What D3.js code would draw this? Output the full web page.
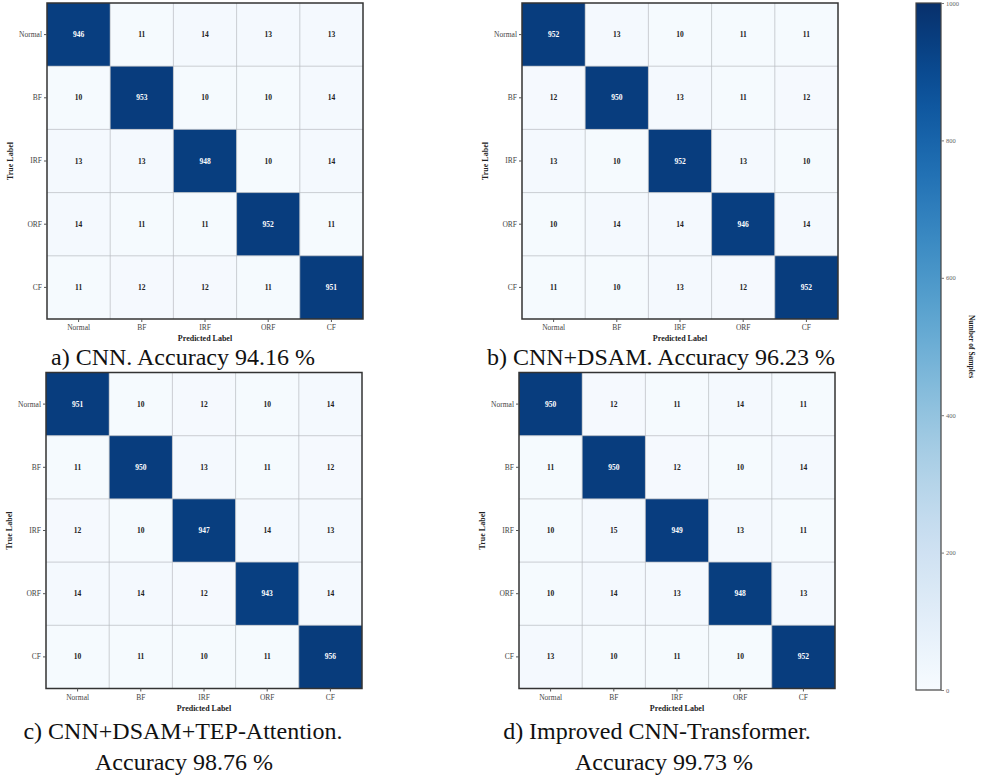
<!DOCTYPE html>
<html>
<head>
<meta charset="utf-8">
<script src="https://cdn.jsdelivr.net/npm/d3@7"></script>
<style>
  body { margin: 0; background: #fff; }
  svg { display: block; }
</style>
</head>
<body>
<svg id="chart" width="985" height="777"></svg>
<script>
// Fault classes (rows = true, columns = predicted)
const classes = ["Normal", "BF", "IRF", "ORF", "CF"];

// Confusion matrices for each model
const cnnMatrix = [
  [946, 11, 14, 13, 13],
  [10, 953, 10, 10, 14],
  [13, 13, 948, 10, 14],
  [14, 11, 11, 952, 11],
  [11, 12, 12, 11, 951]
];
const dsamMatrix = [
  [952, 13, 10, 11, 11],
  [12, 950, 13, 11, 12],
  [13, 10, 952, 13, 10],
  [10, 14, 14, 946, 14],
  [11, 10, 13, 12, 952]
];
const tepMatrix = [
  [951, 10, 12, 10, 14],
  [11, 950, 13, 11, 12],
  [12, 10, 947, 14, 13],
  [14, 14, 12, 943, 14],
  [10, 11, 10, 11, 956]
];
const transformerMatrix = [
  [950, 12, 11, 14, 11],
  [11, 950, 12, 10, 14],
  [10, 15, 949, 13, 11],
  [10, 14, 13, 948, 13],
  [13, 10, 11, 10, 952]
];

// Panel captions
const captions = [
  ["a) CNN. Accuracy 94.16 %"],
  ["b) CNN+DSAM. Accuracy 96.23 %"],
  ["c) CNN+DSAM+TEP-Attention.", "Accuracy 98.76 %"],
  ["d) Improved CNN-Transformer.", "Accuracy 99.73 %"]
];

// Colour bar ticks
const colorTicks = [0, 200, 400, 600, 800, 1000];
const colorDomain = [0, 1000];

const SERIF = "'Liberation Serif', 'Times New Roman', serif";

const svg = d3.select("#chart").attr("font-family", SERIF);
const color = d3.scaleSequential(d3.interpolateBlues).domain(colorDomain);

const size = 316;
const panels = [
  { m: cnnMatrix, x: 47, y: 3, cap: captions[0], capX: [183], capY: 365 },
  { m: dsamMatrix, x: 522, y: 3, cap: captions[1], capX: [661], capY: 365 },
  { m: tepMatrix, x: 46, y: 372.5, cap: captions[2], capX: [183, 184], capY: 739 },
  { m: transformerMatrix, x: 519, y: 372.5, cap: captions[3], capX: [657, 664], capY: 739 }
];

panels.forEach(p => {
  const g = svg.append("g").attr("transform", `translate(${p.x},${p.y})`);
  const xs = d3.scaleBand().domain(classes).range([0, size]);
  const ys = d3.scaleBand().domain(classes).range([0, size]);

  const cells = [];
  p.m.forEach((row, i) => row.forEach((v, j) => cells.push({ t: classes[i], p: classes[j], v })));

  g.selectAll("rect.cell").data(cells).join("rect")
    .attr("class", "cell")
    .attr("x", d => xs(d.p))
    .attr("y", d => ys(d.t))
    .attr("width", xs.bandwidth())
    .attr("height", ys.bandwidth())
    .attr("fill", d => color(d.v));

  // cell boundary grid
  const bounds = d3.range(1, classes.length).map(k => k * xs.step());
  g.selectAll("line.gv").data(bounds).join("line")
    .attr("x1", d => d).attr("x2", d => d).attr("y1", 0).attr("y2", size)
    .attr("stroke", "#b8bcc2").attr("stroke-width", 0.9).attr("stroke-opacity", 0.8);
  g.selectAll("line.gh").data(bounds).join("line")
    .attr("y1", d => d).attr("y2", d => d).attr("x1", 0).attr("x2", size)
    .attr("stroke", "#b8bcc2").attr("stroke-width", 0.9).attr("stroke-opacity", 0.8);

  g.selectAll("text.val").data(cells).join("text")
    .attr("class", "val")
    .attr("x", d => xs(d.p) + xs.bandwidth() / 2)
    .attr("y", d => ys(d.t) + ys.bandwidth() / 2)
    .attr("text-anchor", "middle")
    .attr("dominant-baseline", "central")
    .attr("font-family", SERIF)
    .attr("font-size", 7.5)
    .attr("font-weight", "bold")
    .attr("fill", d => d.v > 500 ? "#ffffff" : "#222222")
    .text(d => d.v);

  g.append("rect")
    .attr("width", size).attr("height", size)
    .attr("fill", "none").attr("stroke", "#333").attr("stroke-width", 1.5);

  const ax = g.append("g").attr("transform", `translate(0,${size})`)
    .call(d3.axisBottom(xs).tickSize(3).tickPadding(3));
  const ay = g.append("g").call(d3.axisLeft(ys).tickSize(3).tickPadding(2));
  [ax, ay].forEach(a => {
    a.attr("font-family", SERIF);
    a.select(".domain").remove();
    a.selectAll(".tick line").attr("stroke", "#555");
    a.selectAll(".tick text").attr("font-size", 7.5).attr("fill", "#444");
  });

  g.append("text")
    .attr("x", size / 2).attr("y", size + 22)
    .attr("text-anchor", "middle")
    .attr("font-family", SERIF)
    .attr("font-size", 8).attr("font-weight", "bold").attr("fill", "#222")
    .text("Predicted Label");

  g.append("text")
    .attr("transform", `translate(${-34},${size / 2}) rotate(-90)`)
    .attr("text-anchor", "middle")
    .attr("font-family", SERIF)
    .attr("font-size", 8).attr("font-weight", "bold").attr("fill", "#222")
    .text("True Label");

  svg.append("text")
    .attr("y", p.capY)
    .attr("text-anchor", "middle")
    .attr("font-family", SERIF)
    .attr("font-size", 24).attr("fill", "#111")
    .selectAll("tspan").data(p.cap).join("tspan")
    .attr("x", (d, i) => p.capX[i])
    .attr("dy", (d, i) => i === 0 ? 0 : 31)
    .text(d => d);
});

// Colour bar
const cb = { x: 916, y: 3, w: 25, h: 687 };
const defs = svg.append("defs");
const grad = defs.append("linearGradient").attr("id", "cbGrad")
  .attr("x1", 0).attr("y1", 1).attr("x2", 0).attr("y2", 0);
d3.range(0, 1.0001, 0.05).forEach(t => {
  grad.append("stop").attr("offset", t).attr("stop-color", color(colorDomain[0] + t * (colorDomain[1] - colorDomain[0])));
});
svg.append("rect")
  .attr("x", cb.x).attr("y", cb.y).attr("width", cb.w).attr("height", cb.h)
  .attr("fill", "url(#cbGrad)").attr("stroke", "#444").attr("stroke-width", 1.2);
const cy = d3.scaleLinear().domain(colorDomain).range([cb.y + cb.h, cb.y]);
const cax = svg.append("g").attr("transform", `translate(${cb.x + cb.w},0)`)
  .call(d3.axisRight(cy).tickValues(colorTicks).tickFormat(d3.format("d")).tickSize(3).tickPadding(2));
cax.attr("font-family", SERIF);
cax.select(".domain").remove();
cax.selectAll(".tick line").attr("stroke", "#777");
cax.selectAll(".tick text").attr("font-size", 6.5).attr("fill", "#666");
svg.append("text")
  .attr("transform", `translate(${969},${cb.y + cb.h / 2}) rotate(90)`)
  .attr("text-anchor", "middle")
  .attr("font-family", SERIF)
  .attr("font-size", 7.5).attr("font-weight", "bold").attr("fill", "#222")
  .text("Number of Samples");
</script>
</body>
</html>
